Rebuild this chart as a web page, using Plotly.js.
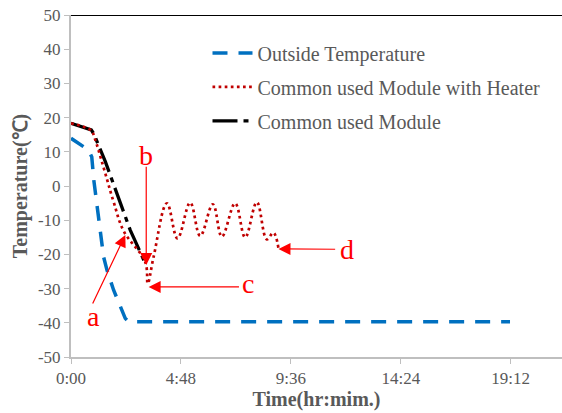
<!DOCTYPE html>
<html>
<head>
<meta charset="utf-8">
<script src="https://cdn.plot.ly/plotly-3.0.1.min.js"></script>
<style>html,body{margin:0;padding:0;background:#fff;}#chart{width:562px;height:413px;}</style>
</head>
<body>
<div id="chart"></div>
<script>
// time in hours
const tickVals = [0, 4.8, 9.6, 14.4, 19.2];
const tickText = ["0:00", "4:48", "9:36", "14:24", "19:12"];
const yTickVals = [-50, -40, -30, -20, -10, 0, 10, 20, 30, 40, 50];
const yTickText = ["-50", "-40", "-30", "-20", "-10", "0", "10", "20", "30", "40", "50"];

const outsideX = [0, 0.768, 0.907, 0.995, 1.422, 1.571, 1.859, 2.151, 2.369, 2.513, 19.17];
const outsideY = [13.95, 10.5, 8.5, 1.75, -20.7, -24.6, -30.4, -35.3, -38.7, -39.7, -39.7];

const commonX = [0, 0.886, 1.0, 1.5, 2.587, 3.242];
const commonY = [18.33, 16.4, 15.2, 7.1, -12.9, -22.6];

const heaterX = [0, 0.886, 1.017, 1.453, 1.859, 2.304, 3.242, 3.351, 3.604, 4.188, 4.651, 5.205, 5.641, 6.195, 6.588, 7.168, 7.605, 8.115, 8.551, 8.839, 9.058];
const heaterY = [18.33, 16.2, 14.3, 4.7, -4.6, -13.2, -22.2, -28.5, -20.8, -5.06, -15.3, -4.88, -14.6, -5.35, -14.8, -5.06, -15.0, -4.77, -15.6, -13.65, -18.2];

const labelText = ["a", "b", "c", "d"];
const labelX = [0.986, 3.285, 7.75, 12.04];
const labelY = [-38.3, 8.8, -28.6, -18.5];
const arrowTipX = [2.373, 3.285, 3.39, 9.06];
const arrowTipY = [-14.3, -23.1, -29.5, -18.4];
const arrowTailX = [0.916, 3.285, 7.4, 11.6];
const arrowTailY = [-34.8, 6.1, -29.5, -18.5];

const serif = "Liberation Serif, Times New Roman, serif";
const grey = "#595959";

const traces = [
  {x: outsideX, y: outsideY, mode: "lines", name: "Outside Temperature",
   line: {color: "#0070c0", width: 3.5, dash: "15px,11px"}, legendrank: 1, legendgroup: "g1"},
  {x: commonX, y: commonY, mode: "lines", name: "Common used Module",
   line: {color: "#000000", width: 3.3, dash: "25px,6px,5px,6px"}, legendrank: 3, legendgroup: "g3"},
  {x: heaterX, y: heaterY, mode: "lines", name: "Common used Module with Heater",
   line: {color: "#c00000", width: 2.7, dash: "2.7px,3.4px", shape: "spline", smoothing: 1.1}, legendrank: 2, legendgroup: "g2"}
];

const annotations = [];
for (let i = 0; i < labelText.length; i++) {
  annotations.push({x: labelX[i], y: labelY[i], xref: "x", yref: "y", text: labelText[i], showarrow: false,
    font: {family: serif, size: 28, color: "#ff0000"}});
  annotations.push({x: arrowTipX[i], y: arrowTipY[i], ax: arrowTailX[i], ay: arrowTailY[i],
    xref: "x", yref: "y", axref: "x", ayref: "y", text: "", showarrow: true,
    arrowhead: 2, arrowsize: 2, arrowwidth: 1.2, arrowcolor: "#ff0000"});
}

const layout = {
  width: 562, height: 413,
  margin: {l: 71, r: 0, t: 15, b: 56},
  paper_bgcolor: "#ffffff", plot_bgcolor: "#ffffff",
  showlegend: true,
  legend: {x: 0.278, y: 0.946, xanchor: "left", yanchor: "top", traceorder: "grouped", tracegroupgap: 5,
    itemwidth: 40, bgcolor: "rgba(0,0,0,0)", font: {family: serif, size: 20, color: grey}},
  xaxis: {range: [0, 21.44], tickvals: tickVals, ticktext: tickText, showgrid: false, zeroline: false,
    showline: true, linecolor: "#bfbfbf", linewidth: 2, ticks: "outside", ticklen: 5, tickcolor: "#bfbfbf",
    tickfont: {family: serif, size: 17, color: grey},
    title: {text: "<b>Time(hr:mim.)</b>", font: {family: serif, size: 20, color: grey}, standoff: 1}},
  yaxis: {range: [-50, 50], tickvals: yTickVals, ticktext: yTickText, showgrid: false, zeroline: false,
    showline: true, linecolor: "#bfbfbf", linewidth: 2, ticks: "outside", ticklen: 5, tickcolor: "#bfbfbf",
    tickfont: {family: serif, size: 17, color: grey},
    title: {text: "<b>Temperature(℃)</b>", font: {family: serif, size: 20, color: grey}, standoff: 5}},
  shapes: [{type: "line", xref: "paper", yref: "y", x0: 0, x1: 1, y0: 50, y1: 50, line: {color: "#000000", width: 2}}],
  annotations: annotations
};

Plotly.newPlot("chart", traces, layout, {staticPlot: true, displayModeBar: false});
</script>
</body>
</html>
